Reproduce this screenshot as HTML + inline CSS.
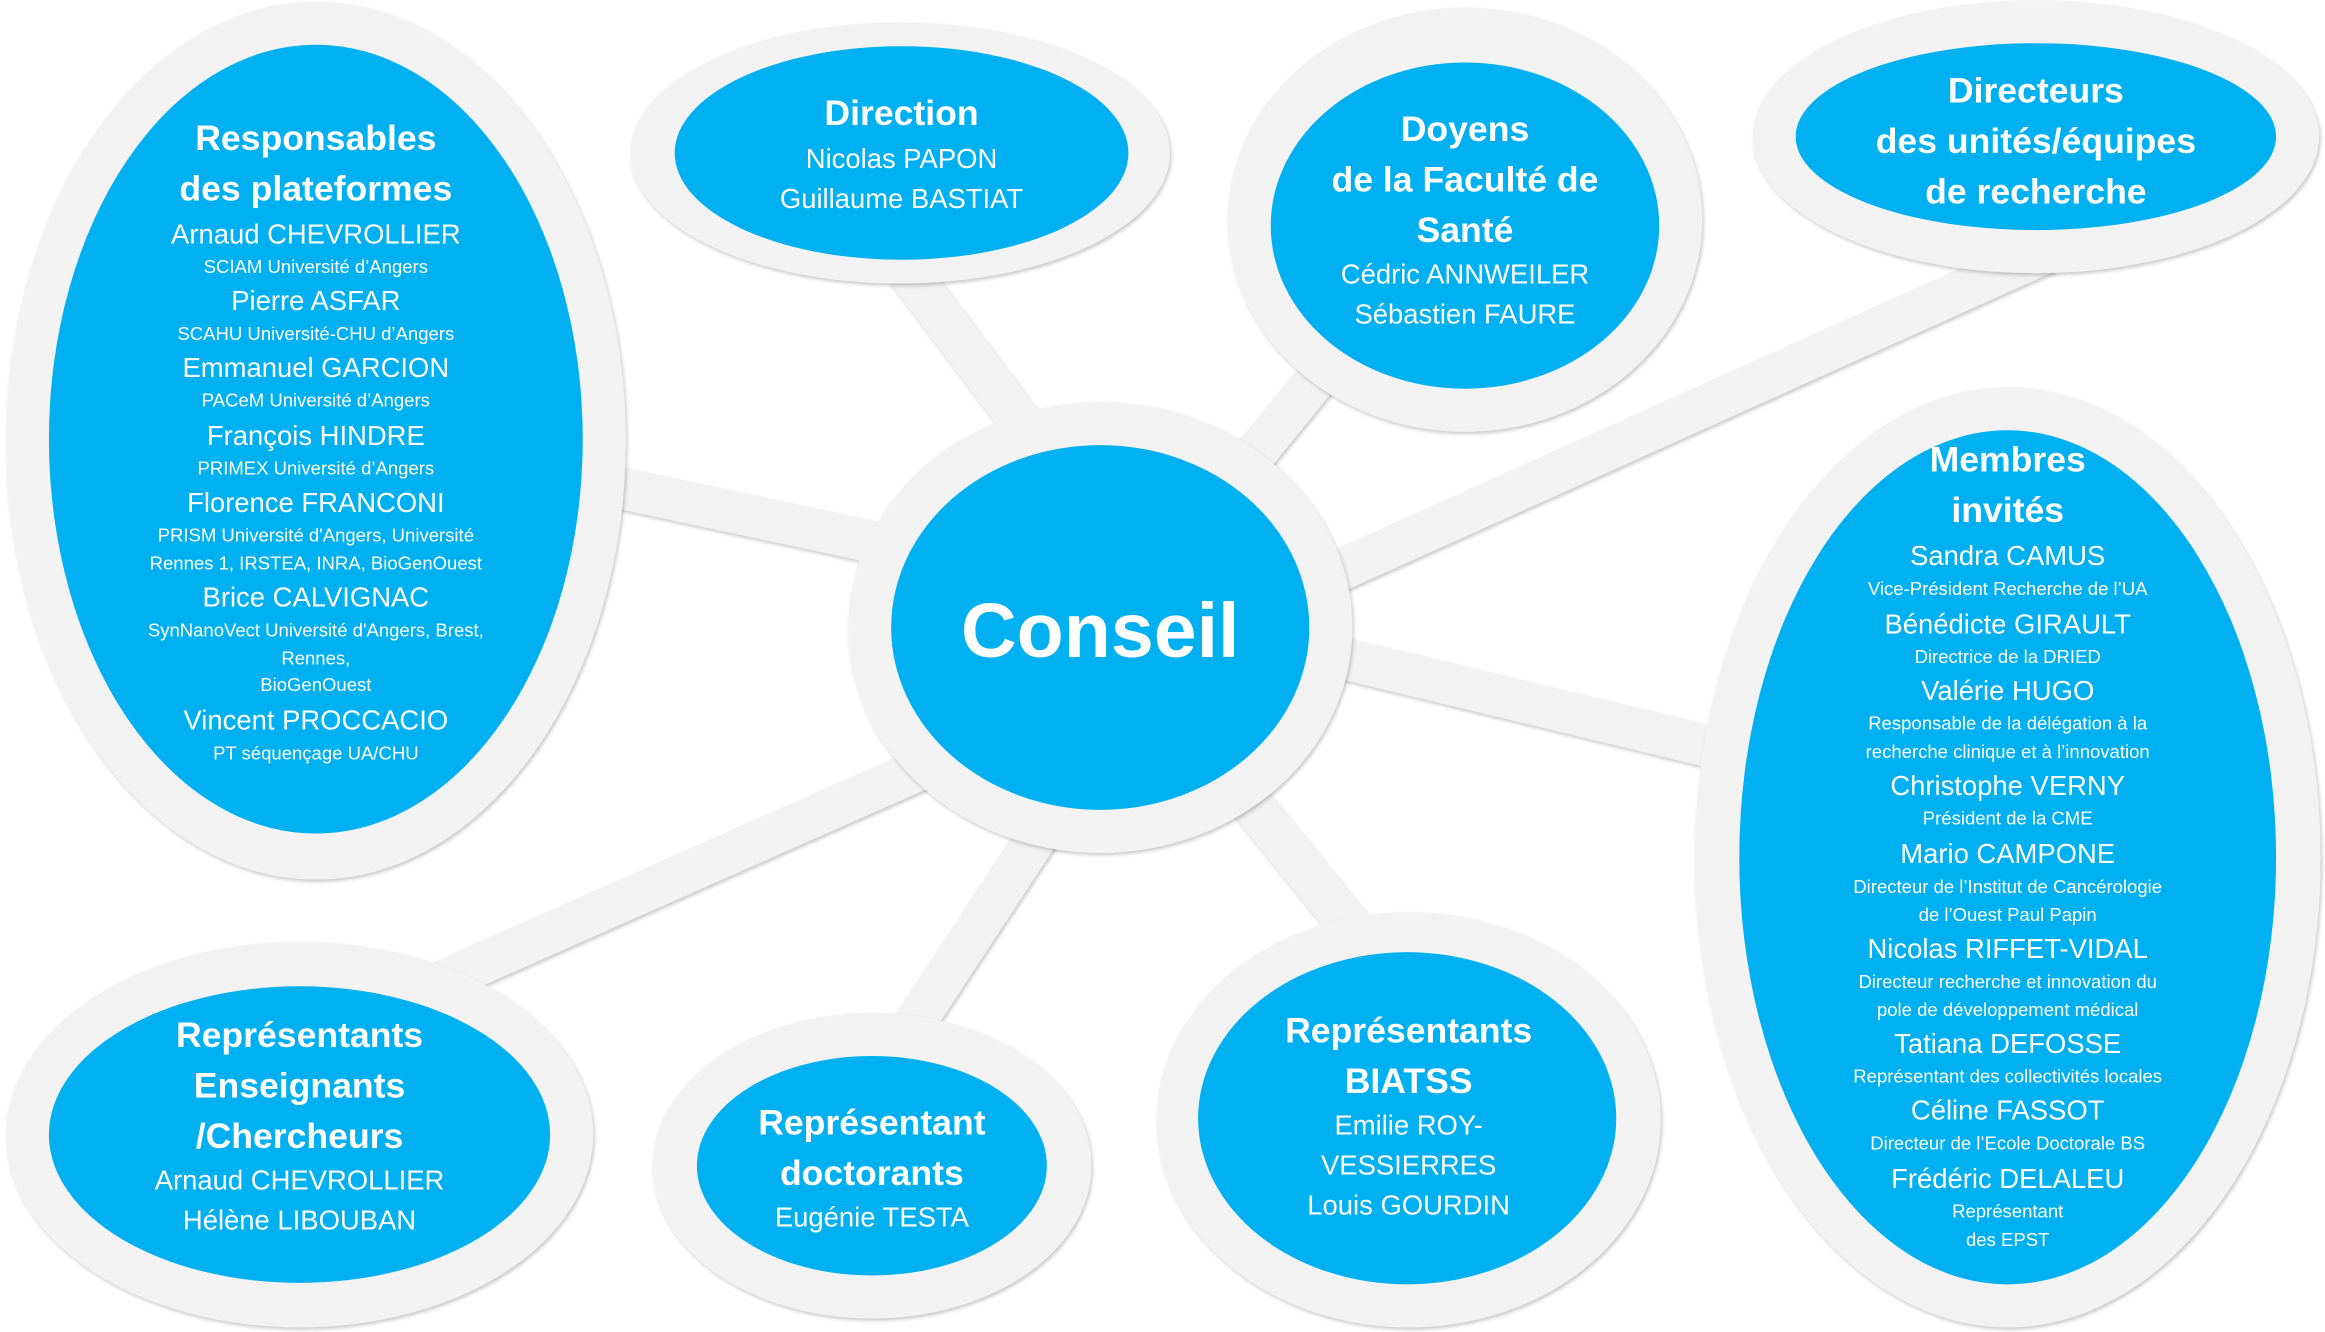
<!DOCTYPE html>
<html><head><meta charset="utf-8"><style>
html,body{margin:0;padding:0;background:#fff}
svg{display:block}
text{font-family:"Liberation Sans",sans-serif;fill:#fff;text-anchor:middle}
.t{font-weight:bold;font-size:24px}
.n{font-size:18.5px}
.s{font-size:12.5px}
.c{font-weight:bold;font-size:52px}
</style></head><body>
<svg width="2325" height="1332" viewBox="0 0 1568 898" xmlns="http://www.w3.org/2000/svg">
<defs>
<filter id="sh" x="-10%" y="-10%" width="120%" height="120%">
<feDropShadow dx="1" dy="1.5" stdDeviation="1.2" flood-color="#000" flood-opacity="0.22"/>
</filter>
</defs>
<g stroke="#f2f2f2" stroke-width="28" filter="url(#sh)">
<line x1="400" y1="325" x2="620" y2="372"/>
<line x1="610" y1="180" x2="700" y2="300"/>
<line x1="900" y1="240" x2="835" y2="320"/>
<line x1="1380" y1="170" x2="880" y2="395"/>
<line x1="890" y1="440" x2="1160" y2="505"/>
<line x1="290" y1="665" x2="640" y2="510"/>
<line x1="610" y1="700" x2="715" y2="540"/>
<line x1="915" y1="630" x2="830" y2="525"/>
</g>
<g fill="#f2f2f2" filter="url(#sh)">
<ellipse cx="213" cy="297" rx="209" ry="296"/>
<ellipse cx="607" cy="103" rx="182" ry="88"/>
<ellipse cx="988" cy="148" rx="160" ry="143"/>
<ellipse cx="1373" cy="92" rx="191" ry="92"/>
<ellipse cx="742" cy="423" rx="170" ry="152"/>
<ellipse cx="1354" cy="578" rx="211" ry="317"/>
<ellipse cx="202" cy="765" rx="198" ry="130"/>
<ellipse cx="588" cy="786" rx="148" ry="103"/>
<ellipse cx="950" cy="755" rx="170" ry="140"/>
</g>
<g fill="#00b0f0">
<ellipse cx="213" cy="296" rx="180" ry="266"/>
<ellipse cx="608" cy="103" rx="153" ry="72"/>
<ellipse cx="988" cy="152" rx="131" ry="110"/>
<ellipse cx="1373" cy="92" rx="162" ry="63"/>
<ellipse cx="742" cy="423" rx="141" ry="123"/>
<ellipse cx="1354" cy="578" rx="181" ry="288"/>
<ellipse cx="202" cy="765" rx="169" ry="100"/>
<ellipse cx="588" cy="786" rx="118" ry="74"/>
<ellipse cx="949" cy="754" rx="141" ry="112"/>
</g>
<text class="c" x="742" y="443">Conseil</text>

<text class="t" x="213" y="101">Responsables</text>
<text class="t" x="213" y="135">des plateformes</text>
<text class="n" x="213" y="164">Arnaud CHEVROLLIER</text>
<text class="s" x="213" y="184">SCIAM Université d’Angers</text>
<text class="n" x="213" y="209">Pierre ASFAR</text>
<text class="s" x="213" y="229">SCAHU Université-CHU d’Angers</text>
<text class="n" x="213" y="254">Emmanuel GARCION</text>
<text class="s" x="213" y="274">PACeM Université d’Angers</text>
<text class="n" x="213" y="300">François HINDRE</text>
<text class="s" x="213" y="320">PRIMEX Université d’Angers</text>
<text class="n" x="213" y="345">Florence FRANCONI</text>
<text class="s" x="213" y="365">PRISM Université d'Angers, Université</text>
<text class="s" x="213" y="384">Rennes 1, IRSTEA, INRA, BioGenOuest</text>
<text class="n" x="213" y="409">Brice CALVIGNAC</text>
<text class="s" x="213" y="429">SynNanoVect Université d'Angers, Brest,</text>
<text class="s" x="213" y="448">Rennes,</text>
<text class="s" x="213" y="466">BioGenOuest</text>
<text class="n" x="213" y="492">Vincent PROCCACIO</text>
<text class="s" x="213" y="512">PT séquençage UA/CHU</text>

<text class="t" x="608" y="84">Direction</text>
<text class="n" x="608" y="113">Nicolas PAPON</text>
<text class="n" x="608" y="140">Guillaume BASTIAT</text>

<text class="t" x="988" y="95">Doyens</text>
<text class="t" x="988" y="129">de la Faculté de</text>
<text class="t" x="988" y="163">Santé</text>
<text class="n" x="988" y="191">Cédric ANNWEILER</text>
<text class="n" x="988" y="218">Sébastien FAURE</text>

<text class="t" x="1373" y="69">Directeurs</text>
<text class="t" x="1373" y="103">des unités/équipes</text>
<text class="t" x="1373" y="137">de recherche</text>

<text class="t" x="1354" y="318">Membres</text>
<text class="t" x="1354" y="352">invités</text>
<text class="n" x="1354" y="381">Sandra CAMUS</text>
<text class="s" x="1354" y="401">Vice-Président Recherche de l’UA</text>
<text class="n" x="1354" y="427">Bénédicte GIRAULT</text>
<text class="s" x="1354" y="447">Directrice de la DRIED</text>
<text class="n" x="1354" y="472">Valérie HUGO</text>
<text class="s" x="1354" y="492">Responsable de la délégation à la</text>
<text class="s" x="1354" y="511">recherche clinique et à l’innovation</text>
<text class="n" x="1354" y="536">Christophe VERNY</text>
<text class="s" x="1354" y="556">Président de la CME</text>
<text class="n" x="1354" y="582">Mario CAMPONE</text>
<text class="s" x="1354" y="602">Directeur de l’Institut de Cancérologie</text>
<text class="s" x="1354" y="621">de l’Ouest Paul Papin</text>
<text class="n" x="1354" y="646">Nicolas RIFFET-VIDAL</text>
<text class="s" x="1354" y="666">Directeur recherche et innovation du</text>
<text class="s" x="1354" y="685">pole de développement médical</text>
<text class="n" x="1354" y="710">Tatiana DEFOSSE</text>
<text class="s" x="1354" y="730">Représentant des collectivités locales</text>
<text class="n" x="1354" y="755">Céline FASSOT</text>
<text class="s" x="1354" y="775">Directeur de l’Ecole Doctorale BS</text>
<text class="n" x="1354" y="801">Frédéric DELALEU</text>
<text class="s" x="1354" y="821">Représentant</text>
<text class="s" x="1354" y="840">des EPST</text>

<text class="t" x="202" y="706">Représentants</text>
<text class="t" x="202" y="740">Enseignants</text>
<text class="t" x="202" y="774">/Chercheurs</text>
<text class="n" x="202" y="802">Arnaud CHEVROLLIER</text>
<text class="n" x="202" y="829">Hélène LIBOUBAN</text>

<text class="t" x="588" y="765">Représentant</text>
<text class="t" x="588" y="799">doctorants</text>
<text class="n" x="588" y="827">Eugénie TESTA</text>

<text class="t" x="950" y="703">Représentants</text>
<text class="t" x="950" y="737">BIATSS</text>
<text class="n" x="950" y="765">Emilie ROY-</text>
<text class="n" x="950" y="792">VESSIERRES</text>
<text class="n" x="950" y="819">Louis GOURDIN</text>
</svg>
</body></html>
